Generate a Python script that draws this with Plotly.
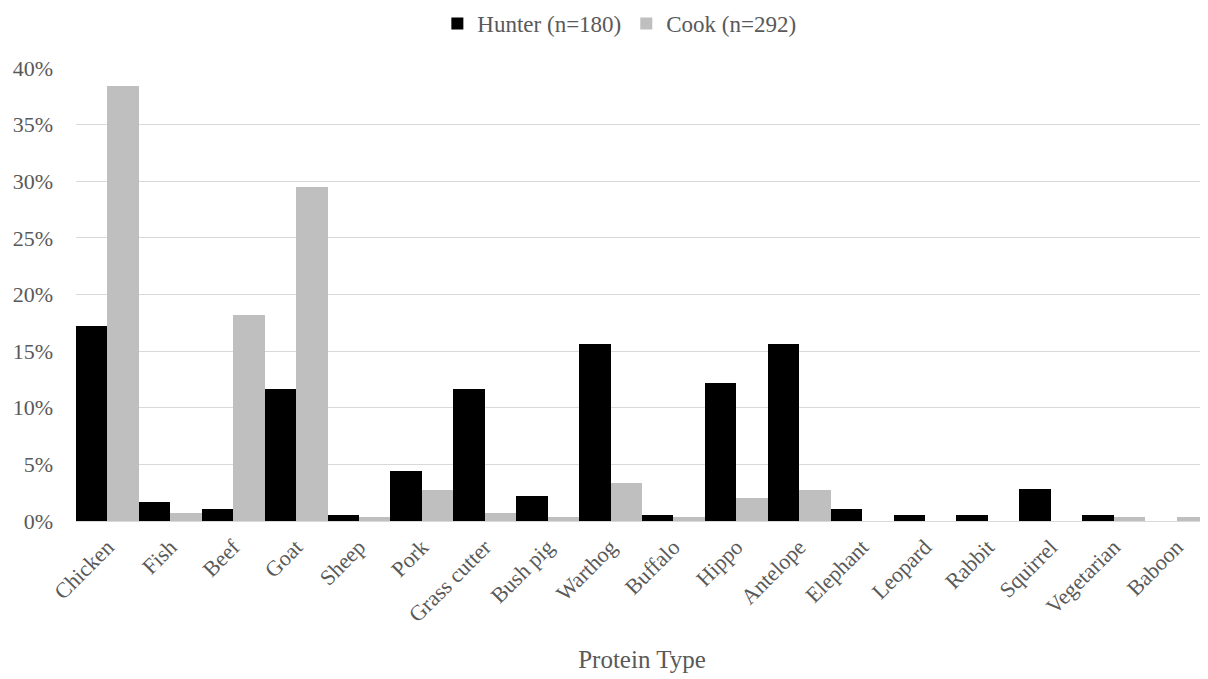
import plotly.graph_objects as go

categories = ["Chicken", "Fish", "Beef", "Goat", "Sheep", "Pork", "Grass cutter", "Bush pig",
              "Warthog", "Buffalo", "Hippo", "Antelope", "Elephant", "Leopard", "Rabbit",
              "Squirrel", "Vegetarian", "Baboon"]
hunter = [17.2, 1.7, 1.1, 11.7, 0.56, 4.4, 11.7, 2.2, 15.6, 0.56, 12.2, 15.6, 1.1, 0.56, 0.56, 2.8, 0.56, 0.0]
cook = [38.4, 0.68, 18.2, 29.5, 0.34, 2.7, 0.68, 0.34, 3.4, 0.34, 2.05, 2.7, 0.0, 0.0, 0.0, 0.0, 0.34, 0.34]
y_ticks = [0, 5, 10, 15, 20, 25, 30, 35, 40]
y_ticklabels = [f"{v}%" for v in y_ticks]

font = "Liberation Serif, Times New Roman, serif"
grey = "#595959"

fig = go.Figure()
fig.add_trace(go.Bar(x=categories, y=hunter, name="Hunter (n=180)",
                     marker=dict(color="#000000", line=dict(width=0))))
fig.add_trace(go.Bar(x=categories, y=cook, name="Cook (n=292)",
                     marker=dict(color="#bfbfbf", line=dict(width=0))))

fig.update_layout(
    width=1200, height=671,
    margin=dict(l=68, r=0, t=60, b=158),
    barmode="group", bargap=0, bargroupgap=0,
    plot_bgcolor="white", paper_bgcolor="white",
    font=dict(family=font, size=22, color=grey),
    legend=dict(orientation="h", x=0.48, xanchor="center", y=0.977, yanchor="middle",
                yref="container", font=dict(size=23, color=grey),
                itemwidth=30, traceorder="normal"),
    xaxis=dict(tickangle=-45, tickfont=dict(size=22, color=grey), showgrid=False,
               showline=False, ticks="", automargin=False, ticklabelstandoff=8,
               title=dict(text="Protein Type", font=dict(size=25, color=grey), standoff=24)),
    yaxis=dict(range=[0, 40], tickvals=y_ticks, ticktext=y_ticklabels, automargin=False,
               tickfont=dict(size=22, color=grey), showgrid=True, gridcolor="#d9d9d9",
               gridwidth=1, zeroline=True, zerolinecolor="#d9d9d9", zerolinewidth=1,
               ticklabelstandoff=22),
)
fig.write_html("out.html")
